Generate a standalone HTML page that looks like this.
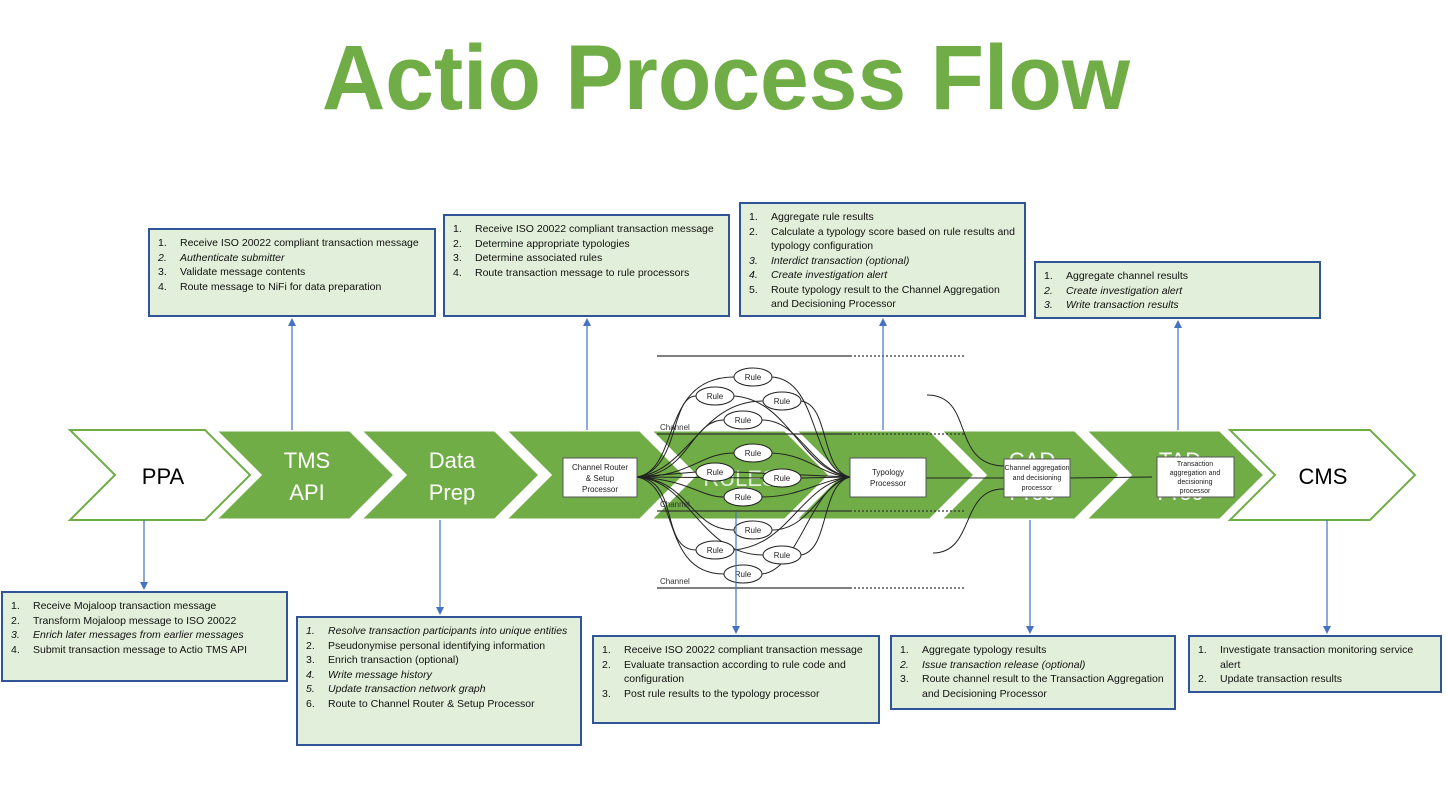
<!DOCTYPE html>
<html><head><meta charset="utf-8"><style>
body{margin:0;background:#fff;}
.box{position:absolute;background:#e2efda;border:2px solid #2f5597;box-sizing:border-box;font-family:"Liberation Sans",sans-serif;font-size:10.5px;color:#111;padding-top:6px;}
.box div{position:relative;padding-left:30px;line-height:14.5px;padding-right:6px;}
.box div span{position:absolute;left:8px;}
.box i{font-style:italic;}
</style></head><body>
<div style="position:relative;width:1447px;height:807px;overflow:hidden;">
<svg width="1447" height="807" style="position:absolute;left:0;top:0" font-family="Liberation Sans, sans-serif">
<text x="322" y="109" font-size="92" font-weight="bold" fill="#70ad47" textLength="808" lengthAdjust="spacingAndGlyphs">Actio Process Flow</text>
<g stroke="#fff" stroke-width="3">
<polygon points="70,430 205,430 250,475 205,520 70,520 115,475" fill="#fff" stroke="#70ad47" stroke-width="2"/>
<polygon points="215,430 350,430 395,475 350,520 215,520 260,475" fill="#70ad47"/>
<polygon points="360,430 495,430 540,475 495,520 360,520 405,475" fill="#70ad47"/>
<polygon points="505,430 640,430 685,475 640,520 505,520 550,475" fill="#70ad47"/>
<polygon points="650,430 785,430 830,475 785,520 650,520 695,475" fill="#70ad47"/>
<polygon points="795,430 930,430 975,475 930,520 795,520 840,475" fill="#70ad47"/>
<polygon points="940,430 1075,430 1120,475 1075,520 940,520 985,475" fill="#70ad47"/>
<polygon points="1085,430 1220,430 1265,475 1220,520 1085,520 1130,475" fill="#70ad47"/>
<polygon points="1230,430 1370,430 1415,475 1370,520 1230,520 1275,475" fill="#fff" stroke="#70ad47" stroke-width="2"/>
</g>
<g font-size="22" text-anchor="middle" fill="#fff">
<text x="163" y="484" fill="#000">PPA</text>
<text x="307" y="468">TMS</text><text x="307" y="500">API</text>
<text x="452" y="468">Data</text><text x="452" y="500">Prep</text>
<text x="740" y="486" opacity=".8">RULES</text>
<text x="1032" y="468">CAD</text><text x="1032" y="500">Proc</text>
<text x="1180" y="468">TAD</text><text x="1180" y="500">Proc</text>
<text x="1323" y="484" fill="#000">CMS</text>
</g>
<!-- channel lines -->
<g stroke="#333" stroke-width="1.2">
<line x1="657" y1="356" x2="850" y2="356"/><line x1="850" y1="356" x2="965" y2="356" stroke-dasharray="2,2"/>
<line x1="657" y1="434" x2="850" y2="434"/><line x1="850" y1="434" x2="965" y2="434" stroke-dasharray="2,2"/>
<line x1="657" y1="511" x2="850" y2="511"/><line x1="850" y1="511" x2="965" y2="511" stroke-dasharray="2,2"/>
<line x1="657" y1="588" x2="850" y2="588"/><line x1="850" y1="588" x2="965" y2="588" stroke-dasharray="2,2"/>
</g>
<g font-size="8" fill="#333"><text x="660" y="430">Channel</text><text x="660" y="507">Channel</text><text x="660" y="584">Channel</text></g>
<!-- rule curves -->
<g fill="none" stroke="#222" stroke-width="1">
<path d="M637,477 C680,470 660,377 734,377"/><path d="M637,477 C680,470 670,396 696,396"/><path d="M637,477 C690,470 700,401 763,401"/><path d="M637,477 C690,475 690,420 724,420"/>
<path d="M637,477 C690,477 700,453 734,453"/><path d="M637,477 L696,472"/><path d="M637,477 L763,478"/><path d="M637,477 C690,480 700,497 724,497"/>
<path d="M637,477 C690,480 690,530 734,530"/><path d="M637,477 C680,480 660,550 696,550"/><path d="M637,477 C690,480 700,555 763,555"/><path d="M637,477 C680,485 660,574 724,574"/>
<path d="M772,377 C820,380 810,470 850,477"/><path d="M734,396 C790,400 800,470 850,477"/><path d="M801,401 C830,405 820,470 850,477"/><path d="M762,420 C800,420 810,470 850,477"/>
<path d="M772,453 C810,455 820,475 850,477"/><path d="M734,472 L850,477"/><path d="M801,478 L850,477"/><path d="M762,497 C800,497 820,480 850,477"/>
<path d="M772,530 C810,530 820,485 850,477"/><path d="M734,550 C790,545 800,485 850,477"/><path d="M801,555 C830,550 820,485 850,477"/><path d="M762,574 C800,570 810,485 850,477"/>
<path d="M926,478 L1004,478"/><path d="M927,395 C975,395 950,465 1004,466"/><path d="M933,553 C975,553 960,488 1004,489"/>
<path d="M1070,478 L1152,477"/>
</g>
<g fill="#fff" stroke="#222" stroke-width="1">
<ellipse cx="753" cy="377" rx="19" ry="9"/><ellipse cx="715" cy="396" rx="19" ry="9"/><ellipse cx="782" cy="401" rx="19" ry="9"/><ellipse cx="743" cy="420" rx="19" ry="9"/>
<ellipse cx="753" cy="453" rx="19" ry="9"/><ellipse cx="715" cy="472" rx="19" ry="9"/><ellipse cx="782" cy="478" rx="19" ry="9"/><ellipse cx="743" cy="497" rx="19" ry="9"/>
<ellipse cx="753" cy="530" rx="19" ry="9"/><ellipse cx="715" cy="550" rx="19" ry="9"/><ellipse cx="782" cy="555" rx="19" ry="9"/><ellipse cx="743" cy="574" rx="19" ry="9"/>
</g>
<g font-size="8" fill="#222" text-anchor="middle">
<text x="753" y="380">Rule</text><text x="715" y="399">Rule</text><text x="782" y="404">Rule</text><text x="743" y="423">Rule</text>
<text x="753" y="456">Rule</text><text x="715" y="475">Rule</text><text x="782" y="481">Rule</text><text x="743" y="500">Rule</text>
<text x="753" y="533">Rule</text><text x="715" y="553">Rule</text><text x="782" y="558">Rule</text><text x="743" y="577">Rule</text>
</g>
<g fill="#fff" stroke="#555" stroke-width="1">
<rect x="563" y="458" width="74" height="39"/><rect x="850" y="458" width="76" height="39"/><rect x="1004" y="459" width="66" height="38"/><rect x="1157" y="457" width="77" height="40"/>
</g>
<g font-size="8" fill="#222" text-anchor="middle">
<text x="600" y="470">Channel Router</text><text x="600" y="481">&amp; Setup</text><text x="600" y="492">Processor</text>
<text x="888" y="475">Typology</text><text x="888" y="486">Processor</text>
<text x="1037" y="470" font-size="7">Channel aggregation</text><text x="1037" y="480" font-size="7">and decisioning</text><text x="1037" y="490" font-size="7">processor</text>
<text x="1195" y="466" font-size="7">Transaction</text><text x="1195" y="475" font-size="7">aggregation and</text><text x="1195" y="484" font-size="7">decisioning</text><text x="1195" y="493" font-size="7">processor</text>
</g>
<!-- blue arrows -->
<g stroke="#4472c4" stroke-width="1.2" fill="#4472c4">
<line x1="292" y1="430" x2="292" y2="324"/><polygon points="288,326 296,326 292,318" stroke="none"/>
<line x1="587" y1="430" x2="587" y2="324"/><polygon points="583,326 591,326 587,318" stroke="none"/>
<line x1="883" y1="430" x2="883" y2="324"/><polygon points="879,326 887,326 883,318" stroke="none"/>
<line x1="1178" y1="430" x2="1178" y2="326"/><polygon points="1174,328 1182,328 1178,320" stroke="none"/>
<line x1="144" y1="520" x2="144" y2="584"/><polygon points="140,582 148,582 144,590" stroke="none"/>
<line x1="440" y1="520" x2="440" y2="609"/><polygon points="436,607 444,607 440,615" stroke="none"/>
<line x1="736" y1="512" x2="736" y2="628"/><polygon points="732,626 740,626 736,634" stroke="none"/>
<line x1="1030" y1="520" x2="1030" y2="628"/><polygon points="1026,626 1034,626 1030,634" stroke="none"/>
<line x1="1327" y1="520" x2="1327" y2="628"/><polygon points="1323,626 1331,626 1327,634" stroke="none"/>
</g>
</svg>

<div class="box" style="left:148px;top:228px;width:288px;height:89px;">
<div><span>1.</span>Receive ISO 20022 compliant transaction message</div>
<div><span><i>2.</i></span><i>Authenticate submitter</i></div>
<div><span>3.</span>Validate message contents</div>
<div><span>4.</span>Route message to NiFi for data preparation</div>
</div>
<div class="box" style="left:443px;top:214px;width:287px;height:103px;">
<div><span>1.</span>Receive ISO 20022 compliant transaction message</div>
<div><span>2.</span>Determine appropriate typologies</div>
<div><span>3.</span>Determine associated rules</div>
<div><span>4.</span>Route transaction message to rule processors</div>
</div>
<div class="box" style="left:739px;top:202px;width:287px;height:115px;">
<div><span>1.</span>Aggregate rule results</div>
<div><span>2.</span>Calculate a typology score based on rule results and typology configuration</div>
<div><span><i>3.</i></span><i>Interdict transaction (optional)</i></div>
<div><span><i>4.</i></span><i>Create investigation alert</i></div>
<div><span>5.</span>Route typology result to the Channel Aggregation and Decisioning Processor</div>
</div>
<div class="box" style="left:1034px;top:261px;width:287px;height:58px;">
<div><span>1.</span>Aggregate channel results</div>
<div><span><i>2.</i></span><i>Create investigation alert</i></div>
<div><span><i>3.</i></span><i>Write transaction results</i></div>
</div>
<div class="box" style="left:1px;top:591px;width:287px;height:91px;">
<div><span>1.</span>Receive Mojaloop transaction message</div>
<div><span>2.</span>Transform Mojaloop message to ISO 20022</div>
<div><span><i>3.</i></span><i>Enrich later messages from earlier messages</i></div>
<div><span>4.</span>Submit transaction message to Actio TMS API</div>
</div>
<div class="box" style="left:296px;top:616px;width:286px;height:130px;">
<div><span><i>1.</i></span><i>Resolve transaction participants into unique entities</i></div>
<div><span>2.</span>Pseudonymise personal identifying information</div>
<div><span>3.</span>Enrich transaction (optional)</div>
<div><span><i>4.</i></span><i>Write message history</i></div>
<div><span><i>5.</i></span><i>Update transaction network graph</i></div>
<div><span>6.</span>Route to Channel Router &amp; Setup Processor</div>
</div>
<div class="box" style="left:592px;top:635px;width:288px;height:89px;">
<div><span>1.</span>Receive ISO 20022 compliant transaction message</div>
<div><span>2.</span>Evaluate transaction according to rule code and configuration</div>
<div><span>3.</span>Post rule results to the typology processor</div>
</div>
<div class="box" style="left:890px;top:635px;width:286px;height:75px;">
<div><span>1.</span>Aggregate typology results</div>
<div><span><i>2.</i></span><i>Issue transaction release (optional)</i></div>
<div><span>3.</span>Route channel result to the Transaction Aggregation and Decisioning Processor</div>
</div>
<div class="box" style="left:1188px;top:635px;width:254px;height:58px;">
<div><span>1.</span>Investigate transaction monitoring service alert</div>
<div><span>2.</span>Update transaction results</div>
</div>
</div>
</body></html>
